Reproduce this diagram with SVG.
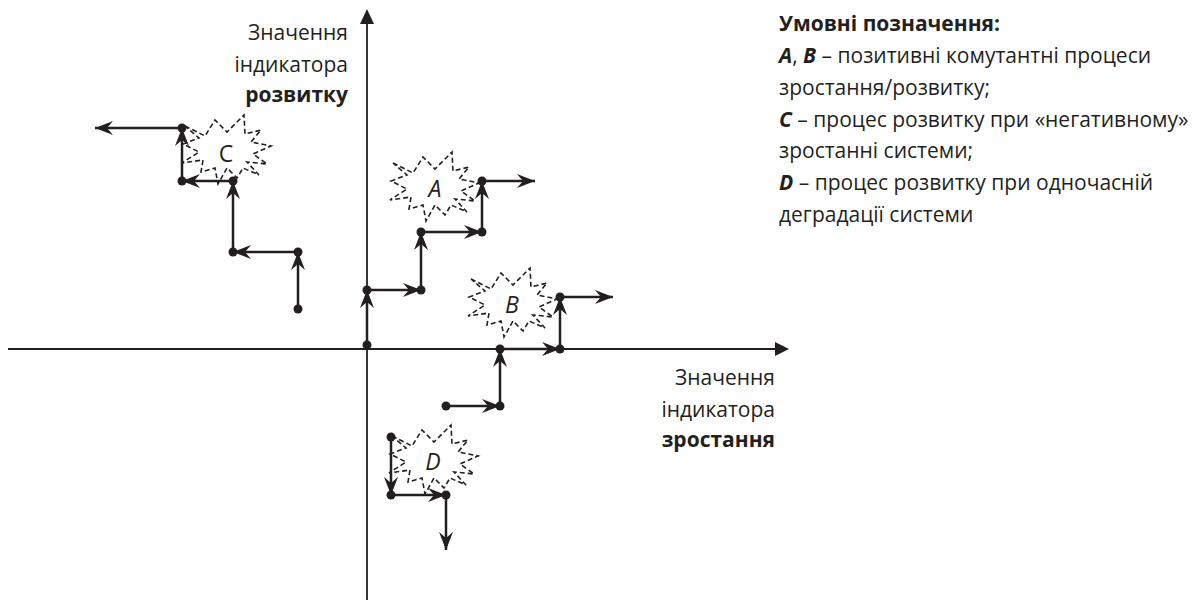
<svg xmlns="http://www.w3.org/2000/svg" width="1198" height="600" viewBox="0 0 1198 600">
<style>
text{font-family:"Open Sans","Noto Sans","Liberation Sans",sans-serif;fill:#231f20}
.lbl{font-size:21px}
.big{font-size:23px}
.ax{font-size:21px;text-anchor:end}
.b{font-weight:bold}
.bi{font-weight:bold;font-style:italic}
.it{font-style:italic}
.axis{stroke:#231f20;stroke-width:1.8;fill:none}
.seg{stroke:#231f20;stroke-width:2.5;fill:none;marker-end:url(#ah)}
.dot{fill:#231f20}
.burst{fill:none;stroke:#231f20;stroke-width:1.6;stroke-dasharray:5 3}
</style>
<defs>
<marker id="ah" markerUnits="userSpaceOnUse" viewBox="-19 -8 21 16" markerWidth="21" markerHeight="16" refX="0" refY="0" orient="auto">
<path d="M0,0 L-18,-7 L-12,0 L-18,7 Z" fill="#231f20"/>
</marker>
<path id="burst" d="M-42,-24 L-22,-14 L-12,-30 L0,-18 L17,-35 L18,-16 L34,-20 L24,-8 L44,-4 L26,4 L40,14 L20,12 L32,25 L16,18 L10,28 L0,18 L-9,34 L-12,18 L-26,22 L-24,10 L-45,13 L-28,2 L-44,-6 L-28,-12 Z"/>
</defs>
<rect width="1198" height="600" fill="#ffffff"/>

<g id="axes">
<line class="axis" x1="367" y1="22" x2="367" y2="600"/>
<path d="M367,9 L374,24 L360,24 Z" fill="#231f20"/>
<line class="axis" x1="8" y1="349" x2="776" y2="349"/>
<path d="M789,349 L775,342 L775,356 Z" fill="#231f20"/>
</g>

<g id="axis-labels">
<text class="ax" x="348" y="40">Значення</text>
<text class="ax" x="348" y="72">індикатора</text>
<text class="ax b" x="348" y="102">розвитку</text>
<text class="ax" x="775" y="385">Значення</text>
<text class="ax" x="775" y="417">індикатора</text>
<text class="ax b" x="775" y="447">зростання</text>
</g>

<g id="bursts">
<use href="#burst" class="burst" transform="translate(435,187)"/>
<use href="#burst" class="burst" transform="translate(513,303)"/>
<use href="#burst" class="burst" transform="translate(227,150)"/>
<use href="#burst" class="burst" transform="translate(434,460)"/>
</g>

<g id="connectors">
<line class="seg" x1="367" y1="345" x2="367" y2="290"/>
<line class="seg" x1="367" y1="290" x2="421" y2="290"/>
<line class="seg" x1="421" y1="290" x2="421" y2="232"/>
<line class="seg" x1="421" y1="232" x2="482" y2="232"/>
<line class="seg" x1="482" y1="232" x2="482" y2="181"/>
<line class="seg" x1="482" y1="181" x2="535" y2="181"/>

<line class="seg" x1="446" y1="406" x2="500" y2="406"/>
<line class="seg" x1="500" y1="406" x2="500" y2="349"/>
<line class="seg" x1="500" y1="349" x2="560" y2="349"/>
<line class="seg" x1="560" y1="349" x2="560" y2="297"/>
<line class="seg" x1="560" y1="297" x2="613" y2="297"/>

<line class="seg" x1="391" y1="437" x2="391" y2="495"/>
<line class="seg" x1="391" y1="495" x2="446" y2="495"/>
<line class="seg" x1="446" y1="495" x2="446" y2="550"/>

<line class="seg" x1="298" y1="309" x2="298" y2="252"/>
<line class="seg" x1="298" y1="252" x2="233" y2="252"/>
<line class="seg" x1="233" y1="252" x2="233" y2="181"/>
<line class="seg" x1="233" y1="181" x2="182" y2="181"/>
<line class="seg" x1="182" y1="181" x2="182" y2="128"/>
<line class="seg" x1="182" y1="128" x2="95" y2="128"/>
</g>

<g id="dots">
<circle class="dot" cx="367" cy="345" r="4.5"/>
<circle class="dot" cx="367" cy="290" r="4.5"/>
<circle class="dot" cx="421" cy="290" r="4.5"/>
<circle class="dot" cx="421" cy="232" r="4.5"/>
<circle class="dot" cx="482" cy="232" r="4.5"/>
<circle class="dot" cx="482" cy="181" r="4.5"/>
<circle class="dot" cx="446" cy="406" r="4.5"/>
<circle class="dot" cx="500" cy="406" r="4.5"/>
<circle class="dot" cx="500" cy="349" r="4.5"/>
<circle class="dot" cx="560" cy="349" r="4.5"/>
<circle class="dot" cx="560" cy="297" r="4.5"/>
<circle class="dot" cx="391" cy="437" r="4.5"/>
<circle class="dot" cx="391" cy="495" r="4.5"/>
<circle class="dot" cx="446" cy="495" r="4.5"/>
<circle class="dot" cx="298" cy="309" r="4.5"/>
<circle class="dot" cx="298" cy="252" r="4.5"/>
<circle class="dot" cx="233" cy="252" r="4.5"/>
<circle class="dot" cx="233" cy="181" r="4.5"/>
<circle class="dot" cx="182" cy="181" r="4.5"/>
<circle class="dot" cx="182" cy="128" r="4.5"/>
</g>

<g id="node-A"><text class="big it" x="435" y="197" text-anchor="middle">A</text></g>
<g id="node-B"><text class="big it" x="512" y="313" text-anchor="middle">B</text></g>
<g id="node-C"><text class="big" x="226" y="162" text-anchor="middle">C</text></g>
<g id="node-D"><text class="big it" x="433" y="470" text-anchor="middle">D</text></g>

<g id="legend">
<text class="lbl b" x="779" y="31">Умовні позначення:</text>
<text class="lbl" x="779" y="63"><tspan class="bi">A</tspan>, <tspan class="bi">B</tspan> – позитивні комутантні процеси</text>
<text class="lbl" x="779" y="95">зростання/розвитку;</text>
<text class="lbl" x="779" y="127"><tspan class="bi">C</tspan> – процес розвитку при «негативному»</text>
<text class="lbl" x="779" y="158">зростанні системи;</text>
<text class="lbl" x="779" y="190"><tspan class="bi">D</tspan> – процес розвитку при одночасній</text>
<text class="lbl" x="779" y="222">деградації системи</text>
</g>
</svg>
